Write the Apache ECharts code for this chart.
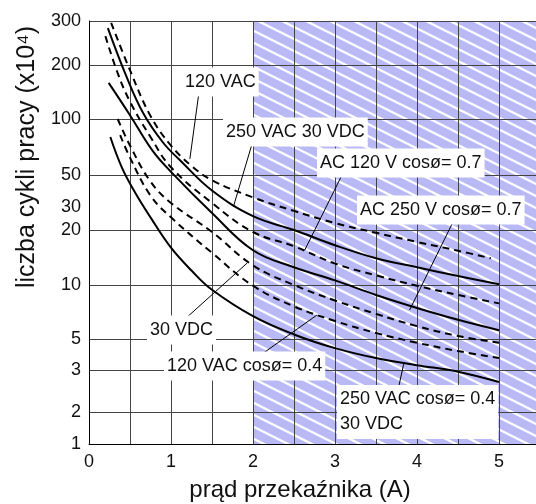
<!DOCTYPE html>
<html>
<head>
<meta charset="utf-8">
<script src="https://cdn.jsdelivr.net/npm/echarts@6/dist/echarts.min.js"></script>
<style>
  html, body { margin: 0; padding: 0; background: #fff; }
  #chart { width: 536px; height: 504px; }
</style>
</head>
<body>
<div id="chart"></div>
<script>
// the y axis of the original is hand drawn and not a true log scale:
// every tick value has its own height, in axis units counted from the bottom
const yTickValues = [1, 2, 3, 5, 10, 20, 30, 50, 100, 200, 300]
const yTickUnits = [0, 32, 74, 105, 159, 214, 237, 269, 325, 379, 423]
const yGridValues = [1, 2, 3, 5, 10, 20, 50, 100, 200, 300]
const xLabels = [0, 1, 2, 3, 4, 5]

// [current A, cycles x10^4]
const vac120 = [[0.27, 295], [0.5, 187], [0.75, 104], [1, 72], [1.25, 56], [1.5, 46], [2, 35], [2.5, 28], [3, 22.6], [3.5, 19.3], [4, 17.2], [4.5, 15.4], [4.9, 14]]
const vac250vdc30 = [[0.23, 281], [0.46, 171], [0.66, 108], [0.9, 75], [1.11, 60], [1.5, 39], [2, 25.5], [2.5, 20], [3, 16.5], [3.5, 14], [4, 12.5], [4.5, 11.2], [5, 10.1]]
const ac120cos07 = [[0.2, 261], [0.35, 180], [0.5, 125], [0.75, 80], [1, 55], [1.5, 32], [2, 19.5], [2.5, 16.3], [3, 13.1], [3.5, 11.3], [4, 9.9], [4.5, 8.8], [5, 7.9]]
const ac250cos07 = [[0.24, 159], [0.5, 105], [0.77, 68], [1, 52], [1.5, 27], [2, 15.5], [2.5, 12.5], [3, 10.6], [3.5, 8.8], [4, 7.45], [4.5, 6.4], [5, 5.6]]
const vdc30 = [[0.35, 100], [0.5, 72], [0.75, 45], [1, 32], [1.5, 19.5], [2, 12.8], [2.5, 10], [3, 8.2], [3.5, 6.9], [4, 5.9], [4.5, 5.2], [5, 4.7]]
const vac120cos04 = [[0.38, 82], [0.5, 62], [0.75, 36], [1, 25], [1.5, 15], [2, 9.9], [2.5, 7.6], [3, 6.3], [3.5, 5.4], [4, 4.7], [4.5, 4.1], [5, 3.65]]
const vac250cos04 = [[0.26, 80], [0.4, 55], [0.56, 38], [0.75, 25], [1, 16], [1.25, 12], [1.5, 9.4], [2, 6.7], [2.5, 5.3], [3, 4.3], [3.5, 3.65], [4, 3.25], [4.5, 2.95], [5, 2.67]]

const fontFamily = '"Liberation Sans", Arial, sans-serif'

// value -> axis units, log interpolation between neighbouring ticks
function toUnit(v) {
  let i = 0
  while (i < yTickValues.length - 2 && v > yTickValues[i + 1]) i++
  const v0 = yTickValues[i]
  const v1 = yTickValues[i + 1]
  const f = Math.log(v / v0) / Math.log(v1 / v0)
  return yTickUnits[i] + f * (yTickUnits[i + 1] - yTickUnits[i])
}

function hatch() {
  const c = document.createElement('canvas')
  c.width = 24
  c.height = 12
  const ctx = c.getContext('2d')
  ctx.fillStyle = '#b9b9f6'
  ctx.fillRect(0, 0, 24, 12)
  ctx.strokeStyle = '#fff'
  ctx.lineWidth = 2.2
  for (let k = -2; k <= 2; k++) {
    ctx.beginPath()
    ctx.moveTo(-1, k * 12 - 0.5)
    ctx.lineTo(25, k * 12 + 12.5)
    ctx.stroke()
  }
  return c
}

const curves = [
  { data: vac120, dashed: true },
  { data: vac250vdc30, dashed: false },
  { data: ac120cos07, dashed: true },
  { data: ac250cos07, dashed: false },
  { data: vdc30, dashed: true },
  { data: vac120cos04, dashed: true },
  { data: vac250cos04, dashed: false }
]

// label text, text position in px, leader start in px, leader end on curve [A, cycles]
const notes = [
  { text: '120 VAC', pos: [182, 82], from: [199, 92], to: [1.23, 61] },
  { text: '250 VAC 30 VDC', pos: [223, 132], from: [252, 144], to: [1.76, 30] },
  { text: 'AC 120 V cosø= 0.7', pos: [317, 163], from: [342, 175], to: [2.63, 15.5] },
  { text: 'AC 250 V cosø= 0.7', pos: [357, 210], from: [453, 222], to: [3.91, 7.25] },
  { text: '30 VDC', pos: [147, 330], from: [185, 319], to: [1.93, 13.2] },
  { text: '120 VAC cosø= 0.4', pos: [164, 366], from: [262, 354], to: [2.78, 6.8] },
  { text: '250 VAC cosø= 0.4\n30 VDC', pos: [337, 412], from: [398, 390], to: [3.84, 3.36] }
]

const chart = echarts.init(document.getElementById('chart'))

const series = curves.map(c => ({
  type: 'line',
  smooth: 0.4,
  symbol: 'none',
  z: 4,
  silent: true,
  lineStyle: {
    color: '#000',
    width: 2,
    type: c.dashed ? [7, 5] : 'solid'
  },
  data: c.data.map(p => [p[0], toUnit(p[1])])
}))

series.push({
  type: 'line',
  data: [],
  silent: true,
  markArea: {
    silent: true,
    z: 1,
    itemStyle: { color: { image: hatch(), repeat: 'repeat' } },
    data: [[{ xAxis: 2, yAxis: 0 }, { xAxis: 5.5, yAxis: 423 }]]
  }
})

chart.setOption({
  animation: false,
  backgroundColor: '#fff',
  grid: { left: 89, width: 451, top: 21, bottom: 60, outerBoundsMode: 'none' },
  xAxis: {
    type: 'value',
    min: 0,
    max: 5.5,
    interval: 0.5,
    z: 3,
    axisLine: { lineStyle: { color: '#000', width: 1 } },
    axisTick: { show: false },
    splitLine: { show: true, lineStyle: { color: '#444', width: 1 } },
    axisLabel: {
      margin: 9,
      color: '#111',
      fontSize: 18,
      fontFamily: fontFamily,
      formatter: v => (xLabels.indexOf(v) >= 0 ? String(v) : '')
    }
  },
  yAxis: {
    type: 'value',
    min: 0,
    max: 423,
    z: 3,
    axisLine: { show: true, lineStyle: { color: '#000', width: 1 } },
    axisTick: { show: false, customValues: yGridValues.map(toUnit) },
    splitLine: { show: true, lineStyle: { color: '#444', width: 1 } },
    axisLabel: {
      margin: 8,
      color: '#111',
      fontSize: 18,
      fontFamily: fontFamily,
      customValues: yTickUnits,
      formatter: v => {
        const i = yTickUnits.findIndex(u => Math.abs(u - v) < 0.01)
        return i >= 0 ? String(yTickValues[i]) : ''
      }
    }
  },
  series: series
})

const graphics = [
  {
    type: 'text',
    x: 300,
    y: 490,
    z: 20,
    style: { text: 'prąd przekaźnika (A)', font: '24px ' + fontFamily, fill: '#111', align: 'center', verticalAlign: 'middle' }
  },
  {
    type: 'text',
    x: 27,
    y: 157,
    rotation: Math.PI / 2,
    z: 20,
    style: { text: 'liczba cykli pracy (x10⁴)', font: '25px ' + fontFamily, fill: '#111', align: 'center', verticalAlign: 'middle' }
  }
]

notes.forEach(n => {
  const end = chart.convertToPixel({ xAxisIndex: 0, yAxisIndex: 0 }, [n.to[0], toUnit(n.to[1])])
  graphics.push({
    type: 'line',
    z: 18,
    shape: { x1: n.from[0], y1: n.from[1], x2: end[0], y2: end[1] },
    style: { stroke: '#000', lineWidth: 1 }
  })
  graphics.push({
    type: 'text',
    x: n.pos[0],
    y: n.pos[1],
    z: 19,
    style: {
      text: n.text,
      font: '18px ' + fontFamily,
      fill: '#111',
      lineHeight: 25,
      verticalAlign: 'middle',
      backgroundColor: '#fff',
      padding: [2, 3, 2, 3]
    }
  })
})

chart.setOption({ graphic: graphics })
</script>
</body>
</html>
